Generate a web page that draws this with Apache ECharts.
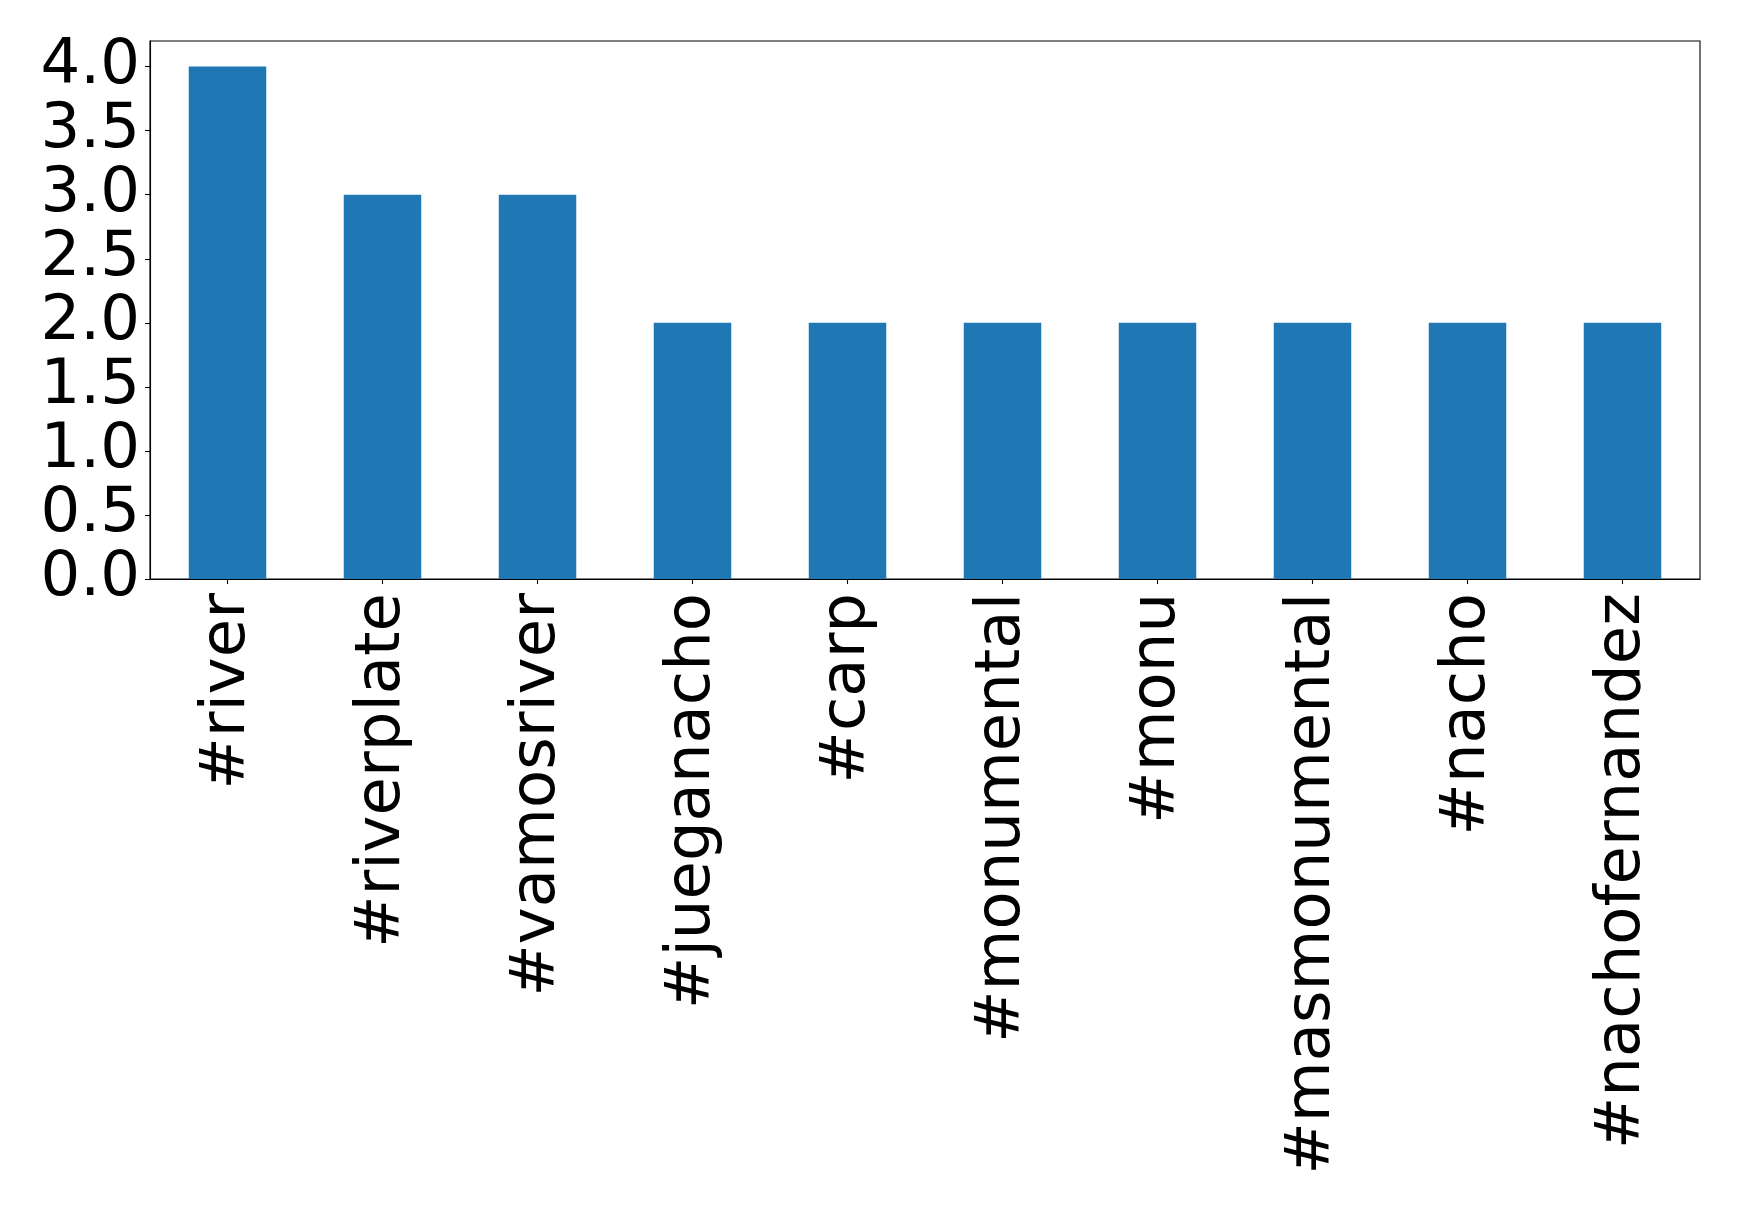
<!DOCTYPE html>
<html>
<head>
<meta charset="utf-8">
<script src="https://cdn.jsdelivr.net/npm/echarts@6/dist/echarts.min.js"></script>
<style>
html,body{margin:0;padding:0;background:#fff;}
#chart{width:1739px;height:1209px;}
</style>
</head>
<body>
<div id="chart"></div>
<script>
const categories = ["#river", "#riverplate", "#vamosriver", "#jueganacho", "#carp", "#monumental", "#monu", "#masmonumental", "#nacho", "#nachofernandez"];
const values = [4, 3, 3, 2, 2, 2, 2, 2, 2, 2];
const yTicks = [0, 0.5, 1.0, 1.5, 2.0, 2.5, 3.0, 3.5, 4.0];

const chart = echarts.init(document.getElementById('chart'), null, {renderer: 'canvas'});
const font = 'DejaVu Sans';
chart.setOption({
  animation: false,
  backgroundColor: '#ffffff',
  grid: {
    left: 150, right: 39, top: 41, bottom: 630,
    show: true, borderColor: '#000', borderWidth: 1.1, backgroundColor: 'transparent',
    containLabel: false
  },
  xAxis: {
    type: 'category',
    data: categories,
    boundaryGap: true,
    axisLine: {show: true, lineStyle: {color: '#000', width: 1.1}},
    axisTick: {show: true, alignWithLabel: true, length: 5, lineStyle: {color: '#000', width: 1.1}},
    axisLabel: {rotate: 90, margin: 14, interval: 0, color: '#000', fontFamily: font, fontSize: 62.5},
    splitLine: {show: false}
  },
  yAxis: {
    type: 'value',
    min: 0, max: 4.2,
    axisLine: {show: true, lineStyle: {color: '#000', width: 1.1}},
    axisTick: {show: true, length: 5, customValues: yTicks, lineStyle: {color: '#000', width: 1.1}},
    axisLabel: {margin: 10, color: '#000', fontFamily: font, fontSize: 62.5,
      customValues: yTicks, formatter: v => Number(v).toFixed(1)},
    splitLine: {show: false}
  },
  series: [{
    type: 'bar',
    data: values,
    barWidth: '50%',
    itemStyle: {color: '#1f77b4'}
  }]
});
</script>
</body>
</html>
